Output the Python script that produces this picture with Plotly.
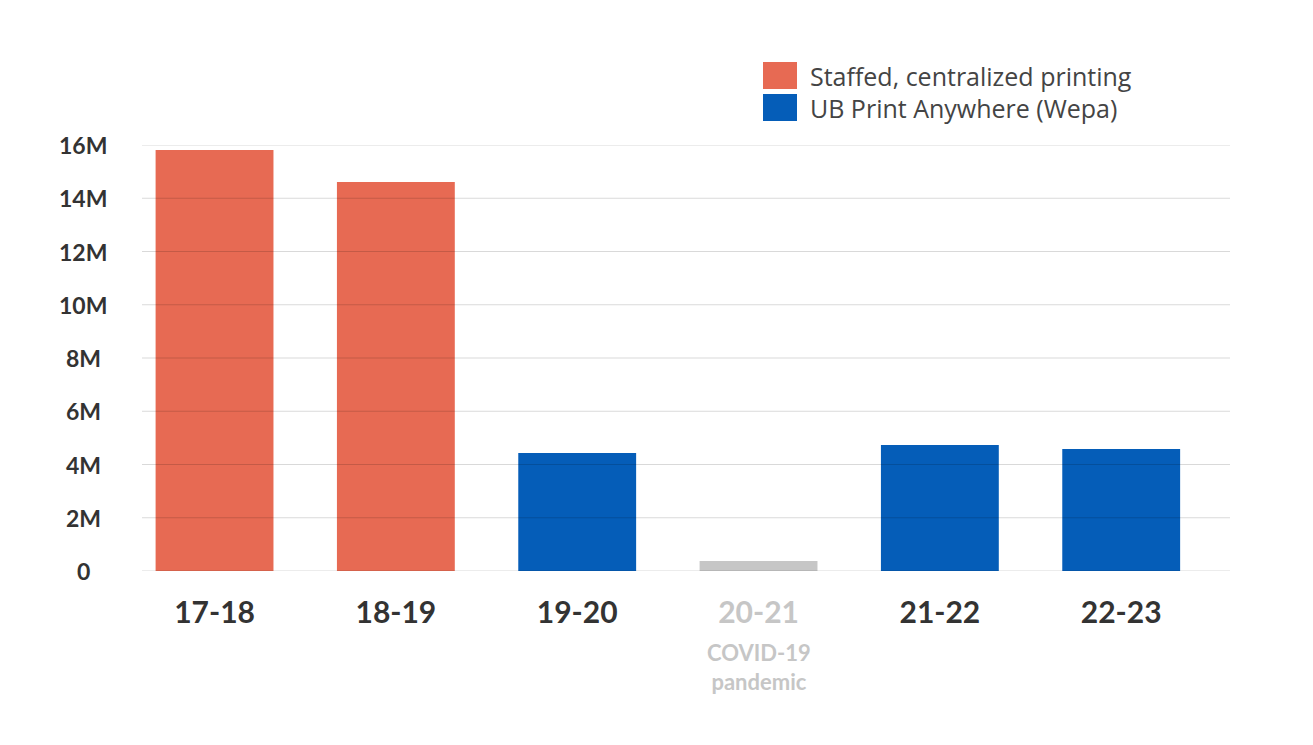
import plotly.graph_objects as go

# ---- data ----
years = ["17-18", "18-19", "19-20", "20-21", "21-22", "22-23"]
pages = [15.81e6, 14.61e6, 4.43e6, 0.38e6, 4.73e6, 4.58e6]
program = ["staffed", "staffed", "wepa", "covid", "wepa", "wepa"]
y_tick_vals = [0, 2e6, 4e6, 6e6, 8e6, 10e6, 12e6, 14e6, 16e6]
y_tick_text = ["0", "2M", "4M", "6M", "8M", "10M", "12M", "14M", "16M"]
legend_names = ["Staffed, centralized printing", "UB Print Anywhere (Wepa)"]
covid_note = "COVID-19<br>pandemic"

COLORS = {"staffed": "#E76A53", "wepa": "#055DB8", "covid": "#C6C6C6"}
FONT = "Lato"
LEG_FONT = "Open Sans"
DARK = "#333333"
GREY = "#C6C6C6"

x_tick_text = []
for yr, p in zip(years, program):
    if p == "covid":
        x_tick_text.append(f"<span style='color:{GREY}'>{yr}</span>")
    else:
        x_tick_text.append(yr)

fig = go.Figure()
fig.add_trace(go.Bar(
    x=years, y=pages,
    marker=dict(color=[COLORS[p] for p in program], line=dict(width=0)),
    width=0.65, showlegend=False, hoverinfo="x+y",
))

OFF = 8  # page body margin
W, H = 1313, 745
L, T = 142 - OFF, 145 - OFF
R = W - (1230 - OFF)
B = H - (571 - OFF)
pw, ph = W - L - R, H - T - B

def px_x(px):
    return (px - OFF - L) / pw

def px_y(py):
    return (H - B - (py - OFF)) / ph

shapes = []
for v in y_tick_vals:
    shapes.append(dict(type="line", xref="paper", yref="y", x0=0, x1=1, y0=v, y1=v,
                       line=dict(color="rgba(0,0,0,0.15)", width=1.2), layer="above"))

annotations = []
for v, t in zip(y_tick_vals, y_tick_text):
    annotations.append(dict(xref="paper", yref="y", x=px_x(83), y=v, text=t, showarrow=False,
                            xanchor="center", yanchor="middle",
                            font=dict(family=FONT, size=23, color=DARK, weight="bold")))

# COVID note under the 20-21 label
for yr, p in zip(years, program):
    if p == "covid":
        annotations.append(dict(xref="x", yref="paper", x=yr, y=px_y(667), text=covid_note,
                                showarrow=False, xanchor="center", yanchor="middle",
                                font=dict(family=FONT, size=22, color=GREY, weight="bold")))

leg_colors = [COLORS["staffed"], COLORS["wepa"]]
leg_boxes = [(62, 89), (94, 121)]
for name, col, (y0, y1) in zip(legend_names, leg_colors, leg_boxes):
    shapes.append(dict(type="rect", xref="paper", yref="paper",
                       x0=px_x(763), x1=px_x(797), y0=px_y(y1), y1=px_y(y0),
                       fillcolor=col, line=dict(width=0)))
    annotations.append(dict(xref="paper", yref="paper", x=px_x(808), y=px_y((y0 + y1) / 2),
                            text=name, showarrow=False, xanchor="left", yanchor="middle",
                            font=dict(family=LEG_FONT, size=25, color="#444444")))

fig.update_layout(
    width=W, height=H,
    margin=dict(l=L, r=R, t=T, b=B, pad=0),
    plot_bgcolor="white", paper_bgcolor="white",
    shapes=shapes, annotations=annotations,
    bargap=0.35,
    xaxis=dict(type="category", range=[-0.4, 5.6], showgrid=False, zeroline=False,
               showline=False, ticks="", tickmode="array", tickvals=years, ticktext=x_tick_text,
               tickfont=dict(family=FONT, size=30, color=DARK, weight="bold"),
               ticklabelstandoff=21),
    yaxis=dict(range=[0, 16e6], showgrid=False, zeroline=False, showline=False,
               showticklabels=False, ticks=""),
)

fig.write_html("out.html")
